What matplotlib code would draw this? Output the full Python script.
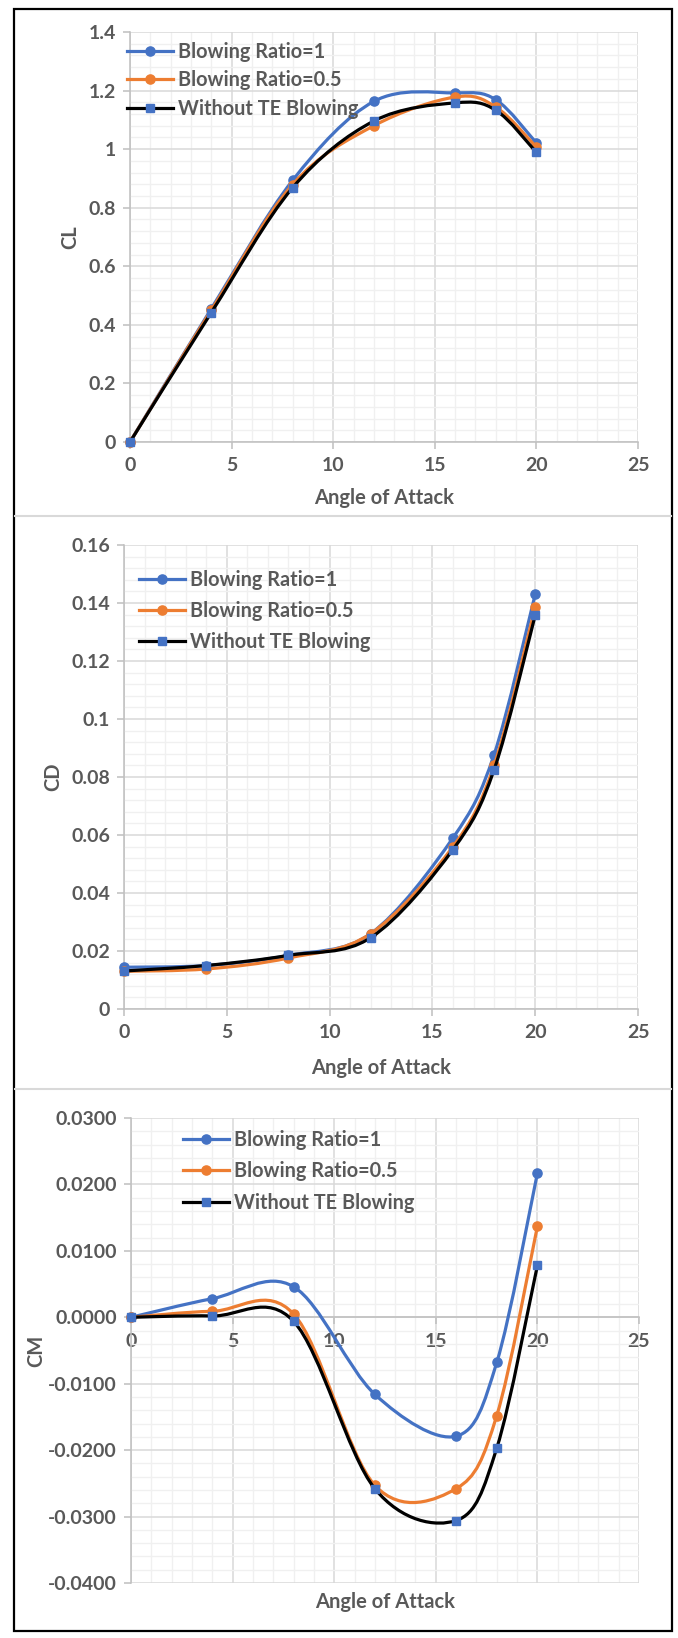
import numpy as np
import matplotlib
matplotlib.use('Agg')
import matplotlib.pyplot as plt
from matplotlib.path import Path
from matplotlib.patches import PathPatch, Rectangle
from matplotlib.lines import Line2D
from matplotlib.ticker import MultipleLocator, FuncFormatter

plt.rcParams.update({'font.family': ['Lato', 'DejaVu Sans'], 'font.weight': 'bold'})

aoa = [0, 4, 8, 12, 16, 18, 20]

cl_br1 = [0, 0.455, 0.893, 1.163, 1.192, 1.169, 1.021]
cl_br05 = [0, 0.450, 0.879, 1.080, 1.178, 1.144, 1.007]
cl_base = [0, 0.442, 0.868, 1.096, 1.158, 1.133, 0.989]

cd_br1 = [0.0144, 0.0150, 0.0185, 0.0260, 0.0590, 0.0877, 0.1430]
cd_br05 = [0.0130, 0.0138, 0.0176, 0.0260, 0.0560, 0.0840, 0.1386]
cd_base = [0.0131, 0.0150, 0.0185, 0.0246, 0.0550, 0.0825, 0.1358]

cm_br1 = [0, 0.0028, 0.0046, -0.0116, -0.0179, -0.0068, 0.0217]
cm_br05 = [0, 0.0009, 0.0005, -0.0253, -0.0258, -0.0148, 0.0137]
cm_base = [0, 0.0002, -0.0006, -0.0258, -0.0306, -0.0197, 0.0078]

labels = ['Blowing Ratio=1', 'Blowing Ratio=0.5', 'Without TE Blowing']
BLUE, ORANGE, BLACK = '#4472C4', '#ED7D31', '#000000'
TXT = '#595959'
W, H = 678, 1638


def smooth_path(x, y):
    # excel-like smoothed line: catmull-rom segments as cubic beziers
    p = np.column_stack([x, y]).astype(float)
    n = len(p)
    verts = [p[0]]
    codes = [Path.MOVETO]
    for i in range(n - 1):
        p0 = p[i - 1] if i > 0 else p[i]
        p3 = p[i + 2] if i + 2 < n else p[i + 1]
        c1 = p[i] + (p[i + 1] - p0) / 6
        c2 = p[i + 1] - (p3 - p[i]) / 6
        verts += [c1, c2, p[i + 1]]
        codes += [Path.CURVE4] * 3
    return Path(verts, codes)


def panel(rect_px, series, ylim, ymajor, yname, fmt, leg_xy, leg_space, ylab_x, xlab_y, zero_axis=False):
    l, t, r, b = rect_px
    ax = fig.add_axes([l / W, 1 - b / H, (r - l) / W, (b - t) / H])
    ax.set_xlim(0, 25)
    ax.set_ylim(*ylim)
    ax.xaxis.set_major_locator(MultipleLocator(5))
    ax.xaxis.set_minor_locator(MultipleLocator(1))
    ax.yaxis.set_major_locator(MultipleLocator(ymajor))
    ax.yaxis.set_minor_locator(MultipleLocator(ymajor / 5))
    ax.grid(which='major', color='#d9d9d9', lw=1.1)
    ax.grid(which='minor', color='#f0f0f0', lw=1.0)
    ax.set_axisbelow(True)
    for s in ['top', 'right']:
        ax.spines[s].set_visible(False)
    for s in ['left', 'bottom']:
        ax.spines[s].set_color('#bfbfbf')
        ax.spines[s].set_linewidth(1.1)
    if zero_axis:
        ax.spines['bottom'].set_position(('data', 0))
    ax.tick_params(which='major', length=5, width=1.1, color='#bfbfbf',
                   labelcolor=TXT, labelsize=14)
    ax.tick_params(axis='y', pad=5)
    ax.tick_params(axis='x', pad=6)
    ax.tick_params(which='minor', length=0)
    ax.yaxis.set_major_formatter(FuncFormatter(fmt))
    ax.xaxis.set_major_formatter(FuncFormatter(lambda v, _: f'{v:g}'))
    for lab in ax.get_xticklabels() + ax.get_yticklabels():
        lab.set_fontweight('bold')

    styles = [(BLUE, 'o', BLUE, 6.6), (ORANGE, 'o', ORANGE, 6.6), (BLACK, 's', BLUE, 6.0)]
    handles = []
    for k, ((lc, mk, mc, ms), yv) in enumerate(zip(styles, series)):
        ax.add_patch(PathPatch(smooth_path(aoa, yv), fill=False, edgecolor=lc, lw=2.3,
                               zorder=3 + 2 * k, capstyle='round', joinstyle='round'))
        ax.plot(aoa, yv, ls='none', marker=mk, ms=ms, color=mc, mec=mc,
                zorder=4 + 2 * k, clip_on=False)
        handles.append(Line2D([], [], color=lc, lw=2.3, marker=mk, ms=ms, mfc=mc, mec=mc))
    leg = fig.legend(handles, labels, loc='upper left',
                     bbox_to_anchor=(leg_xy[0] / W, 1 - leg_xy[1] / H),
                     frameon=False, borderpad=0, borderaxespad=0, handlelength=2.3,
                     handletextpad=0.25, labelspacing=leg_space,
                     prop={'size': 14.3, 'weight': 'bold'})
    for tx in leg.get_texts():
        tx.set_color(TXT)
    fig.text(ylab_x / W, 1 - ((t + b) / 2) / H, yname, rotation=90, ha='center', va='center',
             color=TXT, fontsize=14.5, fontweight='bold')
    fig.text(((l + r) / 2) / W, 1 - xlab_y / H, 'Angle of Attack', ha='center', va='center',
             color=TXT, fontsize=14.5, fontweight='bold')
    return ax


fig = plt.figure(figsize=(W / 100, H / 100), dpi=100)

panel((130, 32, 638, 442), [cl_br1, cl_br05, cl_base], (0, 1.4), 0.2, 'CL',
      lambda v, _: f'{round(v, 3):g}', (127, 42), 0.42, 70, 498)
panel((124, 545, 638, 1009), [cd_br1, cd_br05, cd_base], (0, 0.16), 0.02, 'CD',
      lambda v, _: f'{round(v, 4):g}', (139, 570), 0.55, 53, 1068)
panel((131, 1118, 639, 1583), [cm_br1, cm_br05, cm_base], (-0.04, 0.03), 0.01, 'CM',
      lambda v, _: f'{round(v, 4) + 0.0:.4f}', (183, 1130), 0.57, 36, 1602, zero_axis=True)

# outer frame and panel separators
fig.add_artist(Rectangle((13.5 / W, 1 - 1631 / H), (672 - 13.5) / W, (1631 - 9) / H,
                         transform=fig.transFigure, fill=False, ec='black', lw=1.6))
for ysep in (516, 1089):
    fig.add_artist(Line2D([15 / W, 671 / W], [1 - ysep / H] * 2, transform=fig.transFigure,
                          color='#d9d9d9', lw=1.5))

fig.savefig('out.png', dpi=100)
